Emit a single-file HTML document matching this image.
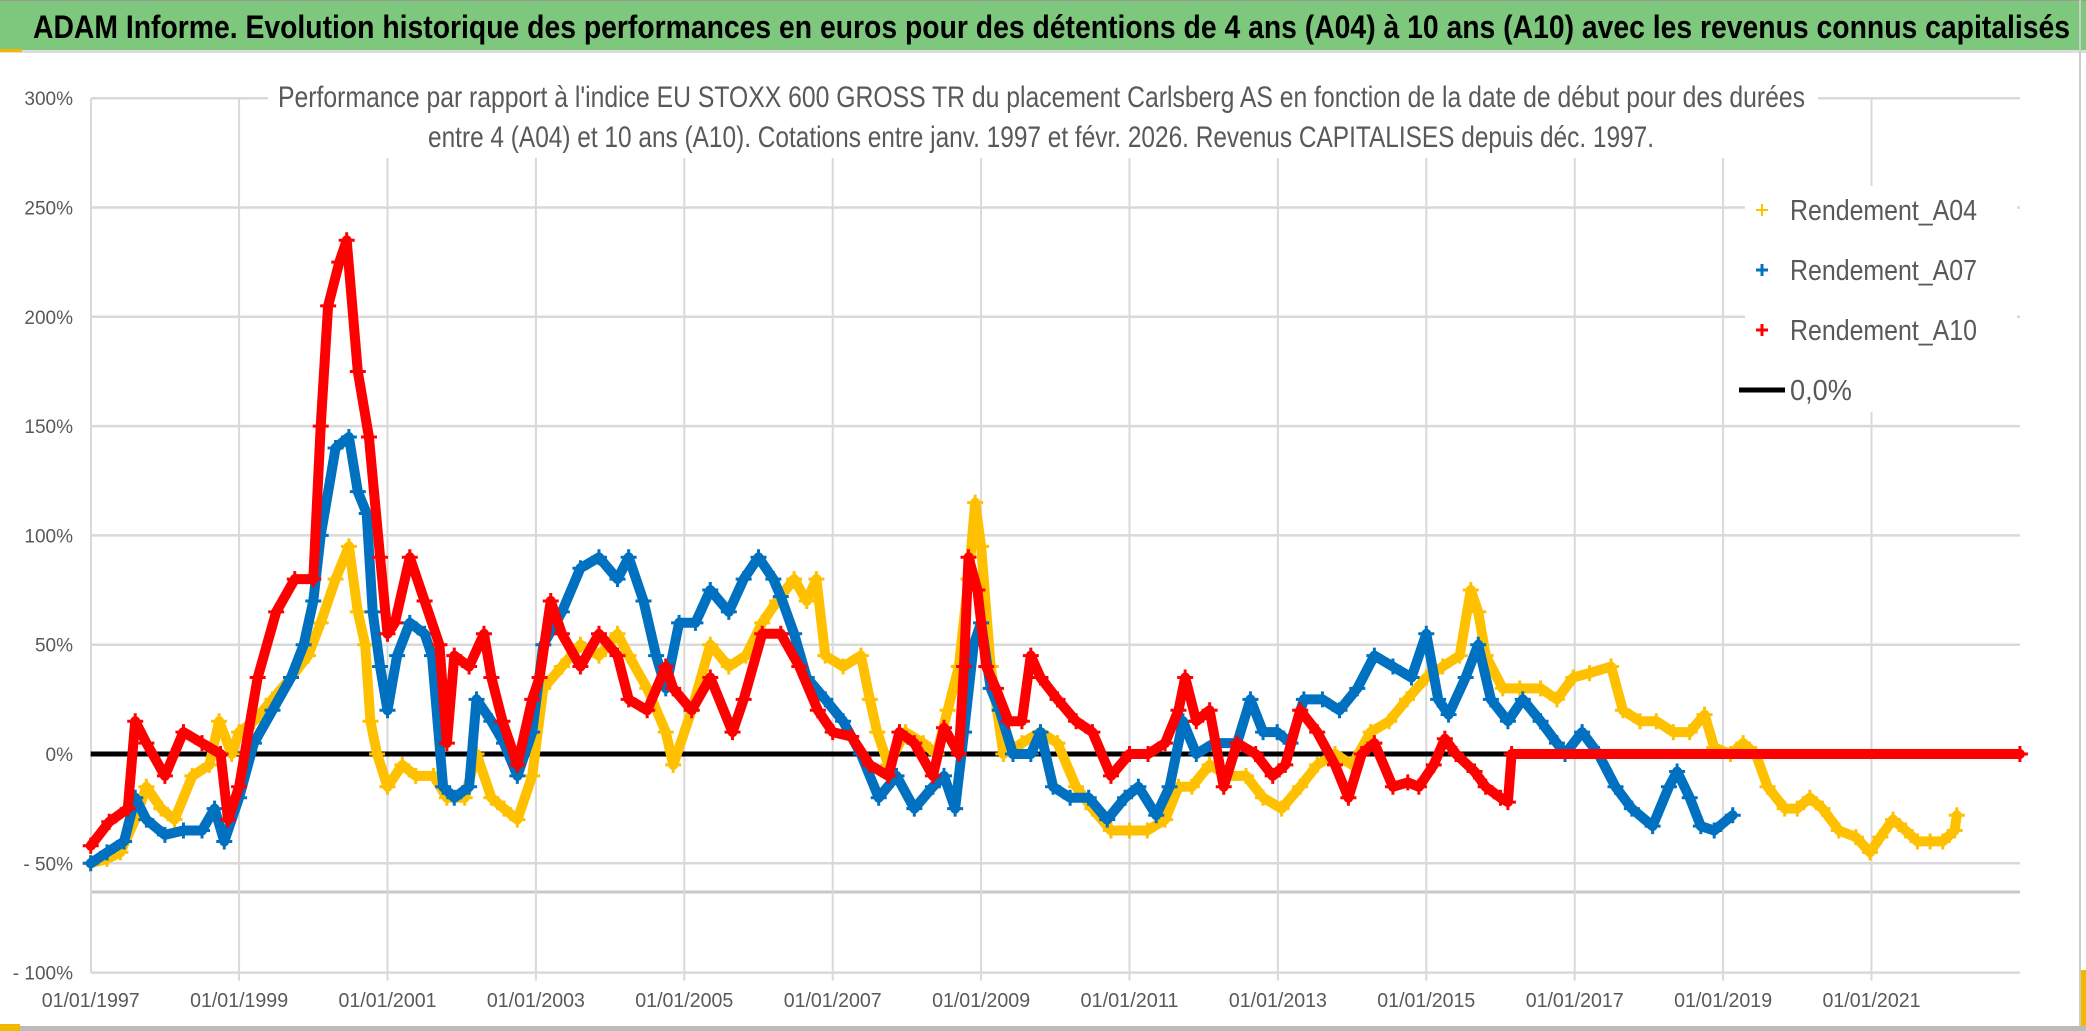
<!DOCTYPE html>
<html><head><meta charset="utf-8"><style>
html,body{margin:0;padding:0;background:#fff;}
svg{display:block;font-family:"Liberation Sans",sans-serif;}
</style></head><body>
<svg id="chart" width="2086" height="1031" viewBox="0 0 2086 1031">
<rect x="0" y="0" width="2086" height="1031" fill="#fff"/>
<rect x="0" y="0" width="2086" height="50" fill="#7DC87D"/>
<rect x="0" y="0" width="2086" height="1" fill="#999"/>
<rect x="0" y="50" width="2086" height="3" fill="#ddd"/>
<rect x="0" y="49" width="22" height="3" fill="#f2b800"/>
<text x="33" y="38" font-size="32" font-weight="bold" fill="#000" textLength="2037" lengthAdjust="spacingAndGlyphs">ADAM Informe. Evolution historique des performances en euros pour des détentions de 4 ans (A04) à 10 ans (A10) avec les revenus connus capitalisés</text>
<g id="grid"></g>
<g id="marks"></g>
<rect x="268" y="76" width="1550" height="82" fill="#fff"/>
<text x="278" y="107" font-size="30" fill="#595959" textLength="1527" lengthAdjust="spacingAndGlyphs">Performance par rapport à l'indice EU STOXX 600 GROSS TR  du placement Carlsberg AS en fonction de la date de début pour des durées</text>
<text x="428" y="147" font-size="30" fill="#595959" textLength="1226" lengthAdjust="spacingAndGlyphs">entre 4 (A04) et 10 ans (A10). Cotations entre janv. 1997 et févr. 2026. Revenus CAPITALISES depuis déc. 1997.</text>
<g>
<rect x="1745" y="186" width="272" height="226" fill="#fff"/>
<g><path d="M1756 210h12M1762 204v12" stroke="#FFC000" stroke-width="2"/><text x="1790" y="220" font-size="29" fill="#595959" textLength="187" lengthAdjust="spacingAndGlyphs">Rendement_A04</text></g>
<g><path d="M1756 270h12M1762 264v12" stroke="#0070C0" stroke-width="3"/><text x="1790" y="280" font-size="29" fill="#595959" textLength="187" lengthAdjust="spacingAndGlyphs">Rendement_A07</text></g>
<g><path d="M1756 330h12M1762 324v12" stroke="#FF0000" stroke-width="3"/><text x="1790" y="340" font-size="29" fill="#595959" textLength="187" lengthAdjust="spacingAndGlyphs">Rendement_A10</text></g>
<g><path d="M1739 390h46" stroke="#000" stroke-width="5"/><text x="1790" y="400" font-size="29" fill="#595959" textLength="62" lengthAdjust="spacingAndGlyphs">0,0%</text></g>
</g>
<rect x="2079" y="0" width="2" height="1031" fill="#ccc"/>
<rect x="2081" y="970" width="5" height="61" fill="#f2b800"/>
<rect x="0" y="1026" width="2086" height="5" fill="#bbb"/>
<rect x="0" y="1024" width="20" height="7" fill="#f2b800"/>
</svg>
<script>
const yTicks = [300, 250, 200, 150, 100, 50, 0, -50, -100];
const yTickLabels = ["300%", "250%", "200%", "150%", "100%", "50%", "0%", "- 50%", "- 100%"];
const xTickYears = [1997, 1999, 2001, 2003, 2005, 2007, 2009, 2011, 2013, 2015, 2017, 2019, 2021];
const xTickLabels = ["01/01/1997","01/01/1999","01/01/2001","01/01/2003","01/01/2005","01/01/2007","01/01/2009","01/01/2011","01/01/2013","01/01/2015","01/01/2017","01/01/2019","01/01/2021"];

const datesA04 = [1997.0,1997.22,1997.4,1997.6,1997.75,1997.95,1998.13,1998.37,1998.6,1998.73,1998.9,1999.0,1999.2,1999.45,1999.7,1999.93,2000.1,2000.3,2000.48,2000.6,2000.7,2000.77,2000.86,2001.0,2001.2,2001.38,2001.62,2001.8,2002.04,2002.2,2002.4,2002.57,2002.75,2002.95,2003.1,2003.35,2003.6,2003.85,2004.1,2004.25,2004.5,2004.75,2004.85,2005.1,2005.35,2005.6,2005.83,2006.05,2006.25,2006.48,2006.65,2006.78,2006.9,2007.14,2007.38,2007.5,2007.6,2007.75,2007.98,2008.22,2008.4,2008.55,2008.7,2008.83,2008.92,2009.0,2009.13,2009.3,2009.55,2009.8,2010.03,2010.28,2010.5,2010.75,2011.0,2011.24,2011.48,2011.66,2011.84,2012.08,2012.33,2012.57,2012.8,2013.05,2013.3,2013.53,2013.77,2014.0,2014.25,2014.5,2014.74,2015.0,2015.22,2015.45,2015.6,2015.7,2015.8,2016.03,2016.26,2016.54,2016.76,2016.98,2017.2,2017.49,2017.65,2017.88,2018.1,2018.33,2018.55,2018.75,2018.88,2019.1,2019.27,2019.44,2019.6,2019.83,2020.0,2020.17,2020.34,2020.56,2020.79,2020.98,2021.12,2021.29,2021.46,2021.62,2021.79,2021.96,2022.12,2022.15];
const valuesA04 = [-50,-48,-45,-30,-15,-25,-30,-10,-5,15,0,10,15,25,35,45,60,80,95,65,50,15,0,-15,-5,-10,-10,-20,-20,0,-20,-25,-30,-10,30,40,50,45,55,45,30,10,-5,20,50,40,45,60,70,80,70,80,45,40,45,25,10,-5,10,5,0,20,40,80,115,95,40,0,5,10,5,-15,-25,-35,-35,-35,-30,-15,-15,-5,-10,-10,-20,-25,-15,-5,0,-5,10,15,25,35,40,45,75,65,45,30,30,30,25,35,37,40,20,15,15,10,10,18,3,0,5,0,-15,-25,-25,-20,-25,-35,-38,-45,-38,-30,-35,-40,-40,-40,-35,-28];

const datesA07 = [1997.0,1997.22,1997.45,1997.6,1997.75,1998.0,1998.25,1998.5,1998.67,1998.8,1999.0,1999.2,1999.45,1999.7,1999.87,2000.0,2000.1,2000.3,2000.48,2000.6,2000.72,2000.8,2000.9,2001.0,2001.13,2001.3,2001.5,2001.6,2001.75,2001.9,2002.1,2002.2,2002.4,2002.57,2002.75,2002.95,2003.1,2003.35,2003.6,2003.85,2004.1,2004.25,2004.45,2004.62,2004.75,2004.93,2005.15,2005.35,2005.6,2005.8,2006.0,2006.2,2006.3,2006.48,2006.65,2006.9,2007.14,2007.38,2007.62,2007.86,2008.1,2008.35,2008.5,2008.65,2008.77,2008.9,2009.0,2009.13,2009.25,2009.43,2009.67,2009.8,2009.97,2010.2,2010.45,2010.7,2010.94,2011.12,2011.36,2011.54,2011.72,2011.9,2012.14,2012.45,2012.63,2012.8,2012.99,2013.17,2013.35,2013.6,2013.83,2014.07,2014.3,2014.55,2014.8,2015.0,2015.16,2015.3,2015.53,2015.7,2015.87,2016.1,2016.3,2016.54,2016.76,2016.87,2017.1,2017.32,2017.55,2017.77,2018.05,2018.27,2018.38,2018.55,2018.7,2018.88,2019.13];
const valuesA07 = [-50,-45,-40,-20,-30,-37,-35,-35,-25,-40,-20,5,20,35,50,70,100,140,145,120,110,65,40,20,45,60,55,45,-15,-20,-15,25,15,5,-10,10,50,65,85,90,80,90,70,45,30,60,60,75,65,80,90,80,72,55,35,25,15,0,-20,-10,-25,-15,-10,-25,10,50,60,30,20,0,0,10,-15,-20,-20,-30,-20,-15,-28,-15,15,0,5,5,25,10,10,5,25,25,20,30,45,40,35,55,25,18,35,50,25,15,25,15,5,0,10,0,-15,-25,-33,-15,-8,-20,-33,-35,-28];

const datesA10 = [1997.0,1997.25,1997.5,1997.6,1997.75,1998.0,1998.25,1998.5,1998.75,1998.85,1999.0,1999.25,1999.5,1999.75,2000.0,2000.1,2000.2,2000.35,2000.45,2000.6,2000.75,2000.9,2001.0,2001.1,2001.3,2001.5,2001.7,2001.8,2001.9,2002.1,2002.3,2002.4,2002.55,2002.75,2002.95,2003.05,2003.2,2003.35,2003.6,2003.85,2004.1,2004.25,2004.5,2004.75,2004.85,2005.1,2005.35,2005.65,2005.8,2006.05,2006.3,2006.55,2006.8,2007.0,2007.25,2007.5,2007.75,2007.9,2008.1,2008.35,2008.5,2008.7,2008.77,2008.83,2008.95,2009.07,2009.2,2009.37,2009.55,2009.67,2009.8,2010.03,2010.28,2010.5,2010.75,2011.0,2011.25,2011.48,2011.66,2011.75,2011.9,2012.08,2012.27,2012.45,2012.7,2012.93,2013.1,2013.3,2013.53,2013.77,2013.95,2014.13,2014.3,2014.55,2014.75,2014.9,2015.1,2015.25,2015.4,2015.65,2015.8,2016.0,2016.1,2016.15,2023.0];
const valuesA10 = [-42,-31,-25,15,5,-10,10,5,0,-30,-15,35,65,80,80,150,205,225,235,175,145,90,55,60,90,70,50,5,45,40,55,35,15,-5,25,35,70,55,40,55,45,25,20,40,30,20,35,10,25,55,55,40,20,10,8,-5,-10,10,5,-10,12,0,40,90,75,40,30,15,15,45,35,25,15,10,-10,0,0,5,20,35,15,20,-15,5,0,-10,-5,20,10,-5,-20,0,5,-15,-13,-15,-5,7,0,-8,-15,-20,-22,0,0];

const zeroLine = [0];

const NS = "http://www.w3.org/2000/svg";
const plotL = 91, plotR = 2020;
function xScale(yr){ return 90.7 + (yr - 1997) * 74.2; }
function yScale(v){ return 754 - v * 2.186; }
function mk(tag, attrs, parent){ const e = document.createElementNS(NS, tag); for (const k in attrs) e.setAttribute(k, attrs[k]); parent.appendChild(e); return e; }

const grid = document.getElementById('grid');
yTicks.forEach((t, i) => {
  const y = yScale(t);
  if (t !== 0) {
    const l = mk('line', {x1: plotL, x2: plotR, y1: y, y2: y, stroke: '#d9d9d9', 'stroke-width': 2.5}, grid);
    
    
  }
  const tx = mk('text', {x: 73, y: y + 7, 'font-size': 19, fill: '#595959', 'text-anchor': 'end'}, grid);
  
  
  tx.textContent = yTickLabels[i];
});
const axisLine = mk('line', {x1: plotL, x2: plotR, y1: 892, y2: 892, stroke: '#c8c8c8', 'stroke-width': 3}, grid);


const yAxis = mk('line', {x1: plotL, x2: plotL, y1: yScale(300), y2: yScale(-100), stroke: '#d9d9d9', 'stroke-width': 2}, grid);


xTickYears.forEach((yr, i) => {
  const x = xScale(yr);
  if (i > 0) {
    const l = mk('line', {x1: x, x2: x, y1: yScale(300), y2: yScale(-100) + 8, stroke: '#d9d9d9', 'stroke-width': 2}, grid);
    
    
  }
  const tx = mk('text', {x: x, y: 1007, 'font-size': 20, fill: '#595959', 'text-anchor': 'middle', textLength: 98, lengthAdjust: 'spacingAndGlyphs'}, grid);
  
  
  tx.textContent = xTickLabels[i];
});

const marks = document.getElementById('marks');
const zl = mk('line', {x1: xScale(1997), x2: plotR - 5, y1: yScale(zeroLine[0]), y2: yScale(zeroLine[0]), stroke: '#000', 'stroke-width': 5}, marks);



function drawSeries(dates, vals, color, name, lw){
  const g = mk('g', {}, marks);
  
  
  const pts = dates.map((d, i) => xScale(d).toFixed(1) + ',' + yScale(vals[i]).toFixed(1)).join(' ');
  const pl = mk('polyline', {points: pts, fill: 'none', stroke: color, 'stroke-width': lw, 'stroke-linejoin': 'round', 'stroke-linecap': 'round'}, g);
  
  
  dates.forEach((d, i) => {
    const x = xScale(d), y = yScale(vals[i]);
    const p = mk('path', {d: `M${x-8} ${y}h16M${x} ${y-8}v16`, stroke: color, 'stroke-width': 3}, g);
    
    
  });
}
drawSeries(datesA04, valuesA04, '#FFC000', 'series-a04', 10);
drawSeries(datesA07, valuesA07, '#0070C0', 'series-a07', 10);
drawSeries(datesA10, valuesA10, '#FF0000', 'series-a10', 10);
</script>
</body></html>
